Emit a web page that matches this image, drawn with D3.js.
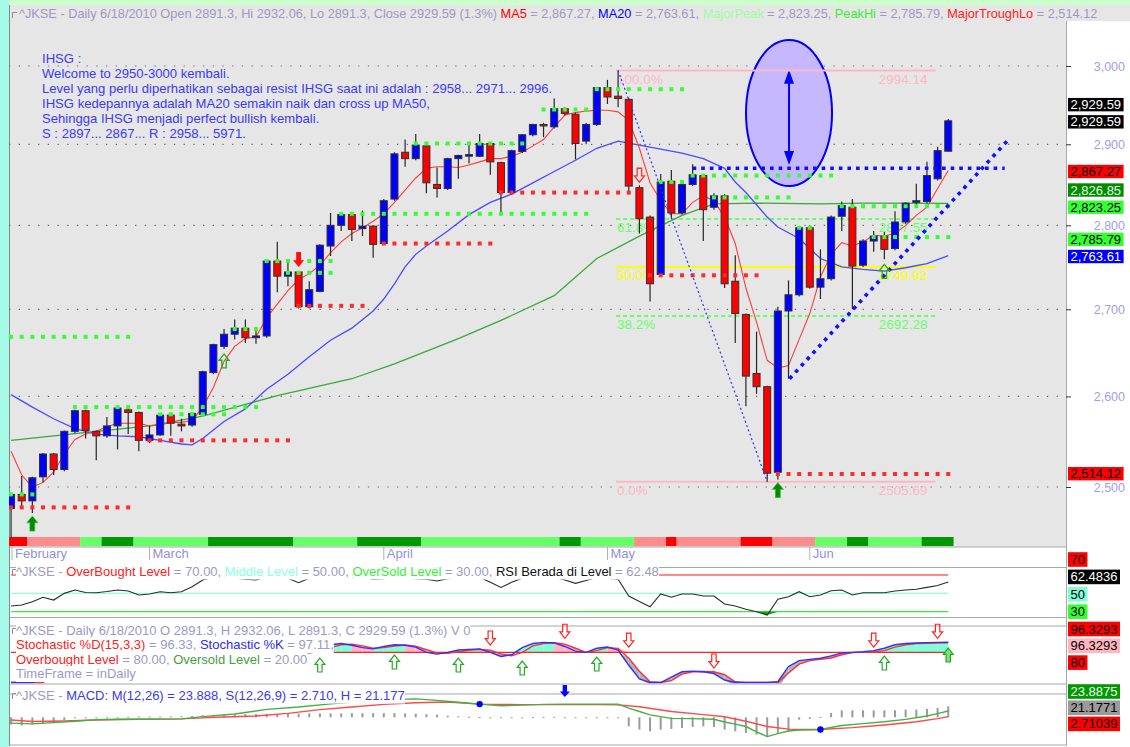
<!DOCTYPE html>
<html>
<head>
<meta charset="utf-8">
<title>JKSE daily</title>
<script src="https://cdn.jsdelivr.net/npm/d3@7"></script>
<style>
  body { margin: 0; background: #ffffff; }
  svg { display: block; font-family: "Liberation Sans", Arial, sans-serif; }
  text { white-space: pre; }
</style>
</head>
<body>
<svg id="chart" width="1130" height="747"></svg>
<script>
// ---------- data ----------
const opens  = [2477,2492,2485,2511,2536,2519,2561,2584,2561,2556, 2567,2585,2582,2551,2557,2579,2569,2568,2580,2627,
                2657,2671,2678,2667,2669,2757,2739,2744,2703,2721, 2775,2800,2813,2796,2799,2778,2832,2890,2882,2898,
                2850,2845,2882,2886,2885,2901,2877,2840,2891,2912, 2925,2922,2945,2938,2904,2925,2972,2961,2957,2846,
                2810,2741,2854,2815,2850,2861,2822,2836,2733,2694, 2626,2611,2516,2698,2717,2797,2726,2736,2811,2822,
                2752,2781,2787,2772,2804,2828,2829,2857,2891.3];
const highs  = [2493,2512,2511,2537,2537,2562,2585,2585,2562,2577, 2588,2586,2583,2567,2580,2582,2575,2582,2629,2660,
                2677,2688,2688,2678,2758,2780,2756,2745,2733,2777, 2815,2815,2815,2818,2800,2832,2890,2906,2913,2900,
                2871,2883,2887,2902,2913,2902,2878,2893,2913,2926, 2927,2958,2947,2940,2927,2973,2982,2994.14,2959,2849,
                2812,2863,2868,2851,2875,2862,2839,2838,2764,2695, 2674,2612,2703,2734,2799,2800,2771,2812,2829,2832,
                2783,2793,2792,2817,2828,2851,2878,2897,2932.06];
const lows   = [2446,2477,2472,2505,2513,2517,2559,2553,2529,2554, 2541,2558,2539,2548,2556,2556,2561,2566,2578,2625,
                2654,2665,2661,2660,2667,2720,2727,2701,2701,2720, 2763,2793,2781,2787,2761,2777,2830,2872,2880,2839,
                2834,2843,2857,2876,2884,2862,2815,2838,2889,2910, 2909,2920,2936,2881,2900,2923,2951,2947,2838,2790,
                2709,2738,2808,2813,2848,2781,2819,2725,2661,2589, 2603,2505.69,2508,2620,2715,2724,2712,2734,2793,2700,
                2750,2768,2759,2770,2802,2825,2827,2855,2891.3];
const closes = [2492,2485,2510,2536,2519,2561,2584,2562,2556,2567, 2587,2582,2551,2557,2579,2570,2567,2581,2628,2659,
                2671,2678,2667,2669,2757,2739,2744,2703,2723,2776, 2800,2813,2795,2799,2777,2830,2888,2882,2899,2852,
                2845,2882,2886,2887,2901,2878,2840,2892,2912,2925, 2924,2945,2939,2901,2925,2972,2960,2958,2848,2808,
                2730,2853,2815,2850,2862,2819,2836,2730,2695,2623, 2611,2515,2698,2717,2797,2726,2736,2810,2824,2751,
                2781,2787,2771,2804,2827,2830,2861,2892,2929.59];

const months = [["February", 0], ["March", 13], ["April", 35], ["May", 56], ["Jun", 75]];
const priceTicks = [2500, 2600, 2700, 2800, 2900, 3000];

const ma5 = [2539,2513,2500,2505,2516,2536,2552,2558,2561,2566, 2570,2570,2570,2567,2568,2571,2571,2573,2588,2610,
             2640,2657,2666,2668,2690,2706,2722,2735,2742,2752, 2767,2780,2790,2797,2805,2814,2828,2843,2858,2870,
             2872,2872,2871,2874,2878,2882,2882,2885,2890,2898, 2906,2922,2937,2940,2942,2943,2943,2941,2930,2895,
             2852,2830,2814,2814,2828,2836,2830,2810,2778,2725, 2685,2641,2632,2635,2665,2695,2738,2765,2779,2775,
             2780,2788,2787,2790,2800,2812,2822,2845,2867.27];
const ma20 = [[0,2602],[2,2588],[4,2575],[6,2564],[8,2558],[10,2556],[12,2555],[14,2551],[16,2547],[17,2546],
              [18,2553],[20,2572],[22,2586],[24,2608],[26,2625],[28,2645],[30,2664],[32,2678],[34,2698],[35,2712],
              [36,2730],[37,2750],[38,2765],[39,2775],[41,2793],[43,2813],[45,2828],[47,2838],[49,2852],[51,2866],
              [53,2880],[55,2895],[57,2904],[59,2899],[61,2894],[63,2889],[65,2882],[67,2870],[68,2853],[69,2840],
              [70,2825],[71,2810],[72,2798],[74,2784],[75,2772],[76,2760],[78,2750],[80,2747],[82,2745],[84,2749],
              [86,2754],[88,2763.61]];
const ma50 = [[0,2551],[4,2556],[8,2561],[13,2567],[18,2578],[22,2591],[25,2601],[32,2620],[36,2637],[42,2666],
              [46,2687],[51,2716],[55,2760],[59,2787],[63,2812],[66,2826],[70,2827],[76,2826],[80,2827],[88,2826.85]];

// support / resistance dots: [first bar, last bar, price, colour]
const srLevels = [
  [0,11,2668,"G"], [0,11,2478,"R"], [0,2,2492,"G"], [6,23,2588,"G"], [14,20,2580,"G"], [13,26,2551,"R"],
  [21,23,2677,"G"], [24,30,2757,"G"], [26,30,2743,"G"], [27,33,2704,"R"], [31,54,2814,"G"], [35,45,2778,"R"],
  [38,48,2901,"G"], [46,58,2840,"R"], [50,54,2944,"G"], [55,63,2970,"G"], [61,63,2853,"G"], [64,77,2861,"G"],
  [66,73,2834,"G"], [74,75,2797,"G"], [60,70,2740,"R"], [78,88,2823.25,"G"], [81,88,2785.79,"G"], [72,88,2514.12,"R"]
];

// trend strip under the candles: [first bar, last bar, state]
const stripSegs = [[0,1,"dn"],[2,6,"wdn"],[7,8,"wup"],[9,11,"up"],[12,18,"wup"],[19,26,"up"],[27,32,"wup"],
  [33,38,"up"],[39,51,"wup"],[52,53,"up"],[54,58,"wup"],[59,61,"wdn"],[62,62,"dn"],[63,68,"wdn"],[69,71,"dn"],
  [72,75,"wdn"],[76,78,"wup"],[79,80,"up"],[81,85,"wup"],[86,88,"up"]];

const fibValues = [2994.14, 2807.55, 2749.92, 2692.28, 2505.69];
const fibLabels = ["100.0%", "61.8%", "50.0%", "38.2%", "0.0%"];
const fibBars = [57, 87];

const buySolid = [2, 72], buyHollow = [20, 82], sellSolid = [27], sellHollow = [59];

const noteLines = ["IHSG :", "Welcome to 2950-3000 kembali.",
  "Level yang perlu diperhatikan sebagai resist IHSG saat ini adalah : 2958... 2971... 2996.",
  "IHSG kedepannya adalah MA20 semakin naik dan cross up MA50,",
  "Sehingga IHSG menjadi perfect bullish kembali.", "S : 2897... 2867... R : 2958... 5971."];

const rsi = [[0,36.2],[1,37.3],[2,40.9],[3,45.7],[4,42.7],[5,50],[6,53.6],[7,51],[8,50.7],[9,52],[10,53.6],[11,52.6],
  [12,48.2],[13,49.3],[14,51.8],[15,50.7],[16,51.8],[17,57.2],[18,64.5],[19,67.5],[20,67.5],[21,66.4],[22,65.3],
  [23,64.5],[24,68],[25,66.5],[26,66.4],[27,61.6],[28,66.4],[29,67.5],[30,68],[31,67.5],[32,66.5],[33,67.5],
  [34,65.3],[35,66],[36,68],[37,66.5],[38,66],[39,65.3],[40,63.5],[41,66],[42,66.4],[43,66.6],[44,67.5],[45,62],
  [46,56.5],[47,62],[48,66.4],[49,67],[50,67.5],[51,67.5],[52,64.5],[53,60.9],[54,64],[55,67.5],[56,66.5],
  [57,65.3],[58,47.1],[59,41],[60,35.4],[61,49.3],[62,45.7],[63,49.3],[64,49.3],[65,47.1],[66,47.1],[67,38.4],
  [68,36.2],[69,32.6],[70,30],[71,26.4],[72,43.5],[73,46.3],[74,51.8],[75,46.3],[76,48.2],[77,52.9],[78,53.6],
  [79,48.2],[80,50.7],[81,50.7],[82,50.7],[83,52.5],[84,53.6],[85,54.4],[86,56.5],[87,58.5],[88,62.48]];
const rsiLevels = [70, 50, 30];

const stochD = [22,18,18,28,40,55,70,78,80,82, 86,88,84,80,82,84,83,85,90,94, 96,97,96,94,95,93,88,82,79,82,
  88,93,94,91,87,88,90.7,92.4,90.7,84.5, 79,78.5,81,83.5,85,83.5,77.5,74,80,91, 95,96.4,94,87,80,83,88,86.8,70,48,
  30,27,32,43,47,47.5,47,42,30,20, 15,12,18,45,60,66,68,70.5,76,79.5, 80,81,83,89,93,95,95.5,96,96.33];
const stochK = [18,15,20,35,52,68,80,80,82,86, 89,86,80,82,84,84,84,88,94,97, 97,96,95,94,96,90,84,79,81,87,
  93,95,92,88,86,90,93,92,89,80, 77,80,84,85,86,80,73,76,88,95, 97,96,90,82,80,87,89,84,58,35,
  25,28,38,47,48,47,44,33,22,14, 10,12,30,56,66,68,70,74,79,80, 81,83,87,93,95,96,96.5,97,97.11];
const stochSell = [[45,92.5],[52,104],[58,89],[66,53.4],[81,89],[87,104]];
const stochBuy = [[29,70.4],[36,75.5],[42,70.4],[48,65.3],[55,72.1],[82,73.8]];
const stochBuyFilled = [[88,87.4]];

const macdLine = [[0,-22],[2,-25],[4,-20],[6,-15],[8,-9],[10,-7.5],[13,-7.5],[16,-6],[18,2.5],[21,12.6],[24,30],
  [27,39],[30,51],[33,60],[36,68],[38,70],[40,64],[42,57],[44,50],[46,44],[48,46],[50,49],[52,50],[55,50],[57,50],
  [58,35],[59,22],[60,9],[62,-4],[64,-5],[66,-7.5],[67,-18],[68,-26],[69,-35],[70,-55],[71,-73],[72,-62],[73,-52],
  [74,-48],[76,-46],[78,-31],[80,-24],[82,-17],[84,-8],[86,5],[87,14],[88,23.89]];
const macdSignal = [[0,-10],[2,-16],[5,-14],[8,-10],[12,-7.5],[16,-6],[18,-2],[20,1],[23,5],[26,15],[29,29],[32,39],
  [35,49],[38,55],[41,58],[44,50],[46,49],[48,48],[50,48],[52,48],[55,48],[57,47],[59,40],[62,22],[65,10],[67,2],
  [69,-15],[71,-35],[73,-45],[74,-46],[76,-46],[79,-39],[82,-29],[85,-17],[87,-5],[88,2.71]];
const macdHist = [-14,-16,-14,-12,-9,-5,-2,-1.5,-1,-1, -0.5,1,1.5,1.5,1.5,2,2,2.5,4,4.5, 5,5.5,6,6,6.5,6.5,7,7,7.5,7.5,
  7.5,7.5,8,8,8,8,8,7.5,7,6, 5,3,2,1,0.5,-0.5,-1,-1,-0.5,0.5, 1,1,-1,-1.5,-1.5,-1,-1,-1.5,-17.3,-23.8,
  -27,-23.8,-22.5,-20.5,-18.6,-17.3,-18.6,-23.8,-27,-30.2, -33.4,-37.9,-30.2,-27,-4.5,-3.2,0.5,8.3,13.5,13.5,
  13.5,13.5,13.5,13.5,14.8,14.8,16,18,21.18];
const macdCross = [[44,50],[76,-46]];
const macdSell = [[52,77]];

// ---------- layout ----------
const svg = d3.select("#chart");
const L = 9, R = 1066;
const x = d3.scaleLinear().domain([0, 88]).range([11.05, 948.25]);
const y = d3.scaleLog().domain([2500, 3000]).range([487, 66]);
const rsiY = d3.scaleLinear().domain([30, 70]).range([611.7, 575]);
const stY = d3.scaleLinear().domain([0, 100]).range([699.4, 640.6]);
const mY = d3.scaleLinear().domain([0, 23.89]).range([717.3, 711]);
const hY = d3.scaleLinear().domain([0, 21.177]).range([717.3, 706.3]);

const TITLE = 13;   // sub-pane title font size
const C = {
  grey: "#e6e6e6", lav: "#9a9ac4", axisTxt: "#a0a0e4", candleUp: "#0000ff", candleDn: "#ff0000",
  green: "#33ff33", red: "#ff2a2a", pink: "#ffb6c8", fibGreen: "#66ff66", yellow: "#ffff00"
};
const stripColor = { dn: "#ff0000", wdn: "#ff8c8c", wup: "#66ff66", up: "#009900" };

// backgrounds
svg.append("rect").attr("width", 1130).attr("height", 747).attr("fill", "#ffffff");
svg.append("rect").attr("x", 0).attr("y", 0).attr("width", 1130).attr("height", 5).attr("fill", "#ccffcc");
svg.append("rect").attr("x", 0).attr("y", 0).attr("width", L).attr("height", 747).attr("fill", "#a6fbe8");
svg.append("rect").attr("x", L).attr("y", 5).attr("width", 1130 - L).attr("height", 16).attr("fill", C.grey);
svg.append("rect").attr("x", L).attr("y", 5).attr("width", R - L).attr("height", 542).attr("fill", C.grey);

svg.append("defs").call(d => {
  d.append("clipPath").attr("id", "cMain").append("rect").attr("x", L).attr("y", 5).attr("width", R - L).attr("height", 541);
  d.append("clipPath").attr("id", "cRsi").append("rect").attr("x", L).attr("y", 562).attr("width", R - L).attr("height", 55);
  d.append("clipPath").attr("id", "cSt").append("rect").attr("x", L).attr("y", 620).attr("width", R - L).attr("height", 63.5);
  d.append("clipPath").attr("id", "cMacd").append("rect").attr("x", L).attr("y", 686).attr("width", R - L).attr("height", 58);
});

// pane borders
const borders = svg.append("g").attr("stroke", "#a8a8a8").attr("stroke-width", 1).attr("fill", "none");
[[L, 547, R, 547], [L, 617.5, R, 617.5], [L, 626, R, 626], [L, 567.5, R, 567.5], [L, 684, R, 684],
 [L, 694, R, 694], [L, 745, R, 745]].forEach(l => borders.append("line")
  .attr("x1", l[0]).attr("y1", l[1]).attr("x2", l[2]).attr("y2", l[3]));
borders.append("line").attr("x1", R + 0.5).attr("y1", 21).attr("x2", R + 0.5).attr("y2", 746);
borders.append("line").attr("x1", L + 0.5).attr("y1", 5).attr("x2", L + 0.5).attr("y2", 746).attr("stroke", "#888");

// ---------- price pane ----------
const pg = svg.append("g").attr("clip-path", "url(#cMain)");

pg.append("g").selectAll("line").data(priceTicks).join("line")
  .attr("x1", L).attr("x2", R).attr("y1", d => y(d)).attr("y2", d => y(d))
  .attr("stroke", "#6a6a6a").attr("stroke-width", 1.2).attr("stroke-dasharray", "1.3,8.4");

pg.append("g").selectAll("rect").data(stripSegs).join("rect")
  .attr("x", d => x(d[0] - 0.5)).attr("width", d => x(d[1] + 0.5) - x(d[0] - 0.5))
  .attr("y", 537).attr("height", 9).attr("fill", d => stripColor[d[2]]);

// ellipse with double arrow
const ex = 73.05;
pg.append("ellipse").attr("cx", x(ex)).attr("cy", (y(3034) + y(2848)) / 2)
  .attr("rx", x(ex + 4.04) - x(ex)).attr("ry", (y(2848) - y(3034)) / 2)
  .attr("fill", "#c6b8ff").attr("stroke", "#0000ff").attr("stroke-width", 2);
pg.append("line").attr("x1", x(ex)).attr("x2", x(ex)).attr("y1", y(2995) + 8).attr("y2", y(2874) - 8)
  .attr("stroke", "#0000ff").attr("stroke-width", 2);
[[y(2995), 1], [y(2874), -1]].forEach(([ty, d]) => pg.append("path")
  .attr("d", `M${x(ex)},${ty}L${x(ex) + 5},${ty + d * 14}L${x(ex) - 5},${ty + d * 14}Z`).attr("fill", "#0000ff"));

// fibonacci levels
const fibCol = [C.pink, C.fibGreen, C.yellow, C.fibGreen, C.pink];
fibValues.forEach((v, k) => {
  const dashed = fibCol[k] === C.fibGreen;
  pg.append("line").attr("x1", x(fibBars[0]) - 2).attr("x2", x(fibBars[1]) - 2).attr("y1", y(v)).attr("y2", y(v))
    .attr("stroke", fibCol[k]).attr("stroke-width", 2).attr("stroke-dasharray", dashed ? "4,3" : null);
  pg.append("text").attr("x", x(fibBars[0]) - 1).attr("y", y(v) + 13).attr("font-size", 13.5)
    .attr("fill", fibCol[k]).text(fibLabels[k]);
  pg.append("text").attr("x", x(fibBars[1]) - 10).attr("y", y(v) + 13).attr("font-size", 13.5)
    .attr("text-anchor", "end").attr("fill", fibCol[k]).text(v.toFixed(2));
});

// moving averages
const lineP = d3.line().x(d => x(d[0])).y(d => y(d[1]));
pg.append("path").attr("d", lineP(ma50)).attr("fill", "none").attr("stroke", "#3aa83a").attr("stroke-width", 1.3);
pg.append("path").attr("d", lineP(ma20)).attr("fill", "none").attr("stroke", "#4a4aff").attr("stroke-width", 1.3);
pg.append("path").attr("d", lineP(ma5.map((v, i) => [i, v]))).attr("fill", "none").attr("stroke", "#ff3b3b").attr("stroke-width", 1.1);

// candles
const bars = d3.range(opens.length);
const cg = pg.append("g");
cg.selectAll("line").data(bars).join("line")
  .attr("x1", i => x(i)).attr("x2", i => x(i)).attr("y1", i => y(highs[i])).attr("y2", i => y(lows[i]))
  .attr("stroke", "#262626").attr("stroke-width", 1.2);
cg.selectAll("rect").data(bars).join("rect")
  .attr("x", i => x(i) - 3.5).attr("width", 7)
  .attr("y", i => y(Math.max(opens[i], closes[i])))
  .attr("height", i => Math.max(1.5, Math.abs(y(opens[i]) - y(closes[i]))))
  .attr("fill", i => closes[i] >= opens[i] ? C.candleUp : C.candleDn)
  .attr("stroke", "#303030").attr("stroke-width", 1);

// support / resistance dots
srLevels.forEach(([a, b, p, c]) => {
  pg.append("g").selectAll("rect").data(d3.range(a, b + 1)).join("rect")
    .attr("x", i => x(i) - 2).attr("y", y(p) - 2).attr("width", 4).attr("height", 4)
    .attr("fill", c === "G" ? C.green : C.red);
});

// peak-to-trough leg and blue trend lines
pg.append("line").attr("x1", x(57)).attr("y1", y(highs[57])).attr("x2", x(71)).attr("y2", y(lows[71]))
  .attr("stroke", "#3030ff").attr("stroke-width", 1.2).attr("stroke-dasharray", "2,2.6");
pg.append("line").attr("x1", x(64)).attr("x2", x(93.3)).attr("y1", y(2870)).attr("y2", y(2870))
  .attr("stroke", "#1010ff").attr("stroke-width", 3.6).attr("stroke-dasharray", "3.6,5");
pg.append("line").attr("x1", x(73.1)).attr("y1", y(2620)).attr("x2", x(93.8)).attr("y2", y(2908))
  .attr("stroke", "#1010ff").attr("stroke-width", 3.6).attr("stroke-dasharray", "3.6,5");

// signal arrows
function arrowPath(cx, tip, dir, w, h) {
  const hh = h * 0.45, sw = w * 0.22;
  const pts = [[0, 0], [w / 2, hh], [sw, hh], [sw, h], [-sw, h], [-sw, hh], [-w / 2, hh]];
  return "M" + pts.map(p => (cx + p[0]) + "," + (tip + dir * p[1])).join("L") + "Z";
}
buySolid.forEach(i => pg.append("path").attr("d", arrowPath(x(i), y(lows[i]) + 3, 1, 11, 15))
  .attr("fill", "#008a00").attr("stroke", "#33bb33").attr("stroke-width", 0.8));
sellSolid.forEach(i => pg.append("path").attr("d", arrowPath(x(i), y(highs[i]) - 4, -1, 11, 15))
  .attr("fill", "#ff1010"));
buyHollow.forEach(i => pg.append("path").attr("d", arrowPath(x(i), y(lows[i]) + 5, 1, 10, 14))
  .attr("fill", "none").attr("stroke", "#22aa22").attr("stroke-width", 1.3));
sellHollow.forEach(i => pg.append("path").attr("d", arrowPath(x(i), y(highs[i]) - 3, -1, 10, 14))
  .attr("fill", "none").attr("stroke", "#ff3030").attr("stroke-width", 1.3));

// note text
const ng = svg.append("g").attr("font-size", 13.1).attr("fill", "#3a3af5");
noteLines.forEach((t, k) => ng.append("text").attr("x", 42).attr("y", 63 + k * 15).text(t));

// text run helper (optionally with opaque backing like the original titles)
function runs(g, x0, base, parts, size, bg) {
  let cx = x0;
  parts.forEach(([t, col]) => {
    const tx = g.append("text").attr("x", cx).attr("y", base).attr("font-size", size).attr("fill", col).text(t);
    const w = tx.node().getComputedTextLength();
    if (bg) g.insert("rect", () => tx.node()).attr("x", cx).attr("y", base - 12).attr("width", w).attr("height", 16).attr("fill", bg);
    cx += w;
  });
  return cx;
}

// little corner marks at the start of every title
const corners = svg.append("g").attr("stroke", "#8c8c8c").attr("fill", "none");
[13, 570, 629, 694].forEach(ty => corners.append("path").attr("d", `M12.5,${ty + 5}V${ty - 0.5}H17`));

const lav = C.lav;
runs(svg.append("g"), 19, 18, [
  ["^JKSE - Daily 6/18/2010 Open 2891.3, Hi 2932.06, Lo 2891.3, Close 2929.59 (1.3%) ", lav],
  ["MA5", "#ff0000"], [" = 2,867.27, ", lav], ["MA20", "#0000ff"], [" = 2,763.61, ", lav],
  ["MajorPeak", "#9cff9c"], [" = 2,823.25, ", lav], ["PeakHi", "#33ee33"], [" = 2,785.79, ", lav],
  ["MajorTroughLo", "#ff2020"], [" = 2,514.12", lav]], 12.75, null);

// price axis
const ax = svg.append("g").attr("transform", `translate(${R},0)`)
  .call(d3.axisRight(y).tickValues(priceTicks).tickFormat(d3.format(",")).tickSize(5).tickPadding(25));
ax.select(".domain").remove();
ax.selectAll("line").attr("stroke", "#333");
ax.selectAll("text").attr("font-size", 12.5).attr("fill", C.axisTxt).attr("font-family", "Liberation Sans, Arial")
  .attr("text-anchor", "end").attr("x", 59).attr("dy", null).attr("y", 4.3);
// vertical extent of every axis label, so value boxes can step aside
const axisBands = ax.selectAll("text").nodes().map(n => {
  const b = n.getBBox(), m = n.getCTM();
  return [b.y + m.f, b.y + b.height + m.f];
});

// value boxes
function box(yc, label, bg, fg, hgt) {
  const g = svg.append("g");
  const t = g.append("text").attr("x", 1070.5).attr("y", yc + 4.5).attr("font-size", 13).attr("fill", fg).text(label);
  const w = t.node().getComputedTextLength();
  g.insert("rect", () => t.node()).attr("x", 1068).attr("y", yc - hgt / 2).attr("width", w + 5).attr("height", hgt).attr("fill", bg);
}
const mainBoxes = [[2514.12, "2,514.12", "#ff0000", "#000"], [2763.61, "2,763.61", "#0000ff", "#fff"],
  [2785.79, "2,785.79", "#33ff33", "#000"], [2823.25, "2,823.25", "#33ff33", "#000"],
  [2826.85, "2,826.85", "#008c00", "#e6ffe6"], [2867.27, "2,867.27", "#ff0000", "#000"],
  [2929.59, "2,929.59", "#000000", "#fff"], [2929.59, "2,929.59", "#000000", "#fff"]];
const BH = 13.4;
let prevY = Infinity;
mainBoxes.forEach(b => {
  let yc = y(b[0]) + 1;
  axisBands.forEach(([t0, t1]) => {
    if (yc + BH / 2 > t0 && yc - BH / 2 < t1) yc = yc > (t0 + t1) / 2 ? t1 + BH / 2 + 0.4 : t0 - BH / 2 - 0.4;
  });
  if (yc > prevY - 17.2) yc = prevY - 17.2;
  prevY = yc;
  box(yc, b[1], b[2], b[3], BH);
});
[["70", "#ff0000", "#000"], ["62.4836", "#000", "#fff"], ["50", "#80ffd4", "#000"], ["30", "#33ff33", "#000"]]
  .forEach((b, k) => box(559.5 + k * 17.4, b[0], b[1], b[2], 14.6));
[["96.3293", "#ff0000", "#000"], ["96.3293", "#ffb6c1", "#000"], ["80", "#ff0000", "#000"]]
  .forEach((b, k) => box(629 + k * 16.8, b[0], b[1], b[2], 14.6));
[["23.8875", "#009900", "#f0fff0"], ["21.1771", "#9a9a9a", "#000"], ["2.71039", "#ff0000", "#000"]]
  .forEach((b, k) => box(691.5 + k * 16.2, b[0], b[1], b[2], 14.6));

// date axis
const dg = svg.append("g");
months.forEach(([m, i]) => {
  const mx = i === 0 ? L + 3 : x(i);
  dg.append("line").attr("x1", mx).attr("x2", mx).attr("y1", 547).attr("y2", 560).attr("stroke", "#b0b0b0");
  dg.append("text").attr("x", mx + 3).attr("y", 558).attr("font-size", TITLE).attr("fill", "#9090dc").text(m);
});

// ---------- RSI pane ----------
const rg = svg.append("g").attr("clip-path", "url(#cRsi)");
const rsiCol = ["#ff6060", "#90ffe0", "#33ee33"];
rsiLevels.forEach((v, k) => rg.append("line").attr("x1", x(0)).attr("x2", x(88)).attr("y1", rsiY(v)).attr("y2", rsiY(v))
  .attr("stroke", rsiCol[k]).attr("stroke-width", 1.3));
const rsiLine = d3.line().x(d => x(d[0])).y(d => rsiY(d[1]));
for (let k = 0; k < rsi.length - 1; k++) {
  const a = rsi[k], b = rsi[k + 1];
  if (a[1] < 30 || b[1] < 30) {
    rg.append("path").attr("fill", "#00b000").attr("d",
      `M${x(a[0])},${rsiY(30)}L${x(a[0])},${rsiY(Math.min(a[1], 30))}L${x(b[0])},${rsiY(Math.min(b[1], 30))}L${x(b[0])},${rsiY(30)}Z`);
  }
}
rg.append("path").attr("d", rsiLine(rsi)).attr("fill", "none").attr("stroke", "#2a2a2a").attr("stroke-width", 1.1);
runs(svg.append("g"), 16, 575.5, [["^JKSE - ", lav], ["OverBought Level", "#ff2020"], [" = 70.00, ", lav],
  ["Middle Level", "#8cffe0"], [" = 50.00, ", lav], ["OverSold Level", "#33ee33"], [" = 30.00, ", lav],
  ["RSI Berada di Level", "#111"], [" = 62.48", lav]], TITLE, "#fff");

// ---------- Stochastic pane ----------
const sg = svg.append("g").attr("clip-path", "url(#cSt)");
for (let i = 0; i < 88; i++) {
  const k0 = stochK[i], k1 = stochK[i + 1], d0 = stochD[i], d1 = stochD[i + 1];
  const up = (k0 + k1) >= (d0 + d1);
  sg.append("path").attr("fill", up ? "#80ffd4" : "#ffb4c4").attr("d",
    `M${x(i)},${stY(Math.max(k0, d0, 80))}L${x(i + 1)},${stY(Math.max(k1, d1, 80))}L${x(i + 1)},${stY(80)}L${x(i)},${stY(80)}Z`);
  sg.append("path").attr("fill", "#b4b4b4").attr("d",
    `M${x(i)},${stY(Math.min(k0, 80))}L${x(i + 1)},${stY(Math.min(k1, 80))}L${x(i + 1)},${stY(Math.min(d1, 80))}L${x(i)},${stY(Math.min(d0, 80))}Z`);
}
sg.append("line").attr("x1", x(0)).attr("x2", x(88)).attr("y1", stY(80)).attr("y2", stY(80)).attr("stroke", "#ff2020").attr("stroke-width", 1.3);
const stLine = d3.line().x((d, i) => x(i)).y(d => Math.min(stY(d), 682.5));
sg.append("path").attr("d", stLine(stochD)).attr("fill", "none").attr("stroke", "#ff3030").attr("stroke-width", 1.4);
sg.append("path").attr("d", stLine(stochK)).attr("fill", "none").attr("stroke", "#3030ff").attr("stroke-width", 1.4);
stochSell.forEach(([i, v]) => sg.append("path").attr("d", arrowPath(x(i), stY(v), -1, 10, 14))
  .attr("fill", "none").attr("stroke", "#ff2020").attr("stroke-width", 1.2));
stochBuy.forEach(([i, v]) => sg.append("path").attr("d", arrowPath(x(i), stY(v), 1, 10, 14))
  .attr("fill", "none").attr("stroke", "#22aa22").attr("stroke-width", 1.2));
stochBuyFilled.forEach(([i, v]) => sg.append("path").attr("d", arrowPath(x(i), stY(v), 1, 10, 14))
  .attr("fill", "#7fe07f").attr("stroke", "#22aa22").attr("stroke-width", 1.2));
const stt = svg.append("g");
runs(stt, 16, 634.5, [["^JKSE - Daily 6/18/2010 O 2891.3, H 2932.06, L 2891.3, C 2929.59 (1.3%) V 0", lav]], TITLE, "#fff");
runs(stt, 16, 649, [["Stochastic %D(15,3,3)", "#ff2020"], [" = 96.33, ", lav], ["Stochastic %K", "#2a2aff"], [" = 97.11,", lav]], TITLE, "#fff");
runs(stt, 16, 663.5, [["Overbought Level", "#ff2020"], [" = 80.00, ", lav], ["Oversold Level", "#44a040"], [" = 20.00", lav]], TITLE, "#fff");
runs(stt, 16, 678, [["TimeFrame = inDaily", lav]], TITLE, "#fff");

// ---------- MACD pane ----------
const mg = svg.append("g").attr("clip-path", "url(#cMacd)");
mg.selectAll("rect").data(macdHist).join("rect")
  .attr("x", (d, i) => x(i) - 1).attr("width", 2)
  .attr("y", d => Math.min(hY(d), hY(0))).attr("height", d => Math.max(1, Math.abs(hY(d) - hY(0))))
  .attr("fill", "#9a9a9a");
const mLine = d3.line().x(d => x(d[0])).y(d => mY(d[1]));
mg.append("path").attr("d", mLine(macdSignal)).attr("fill", "none").attr("stroke", "#ff4848").attr("stroke-width", 1.4);
mg.append("path").attr("d", mLine(macdLine)).attr("fill", "none").attr("stroke", "#44b044").attr("stroke-width", 1.4);
mg.selectAll("circle").data(macdCross).join("circle")
  .attr("cx", d => x(d[0])).attr("cy", d => mY(d[1])).attr("r", 3.2).attr("fill", "#0000ff");
runs(svg.append("g"), 16, 699.5, [["^JKSE - ", lav], ["MACD: M(12,26) = 23.888, S(12,26,9) = 2.710, H = 21.177", "#3a3aee"]], TITLE, "#fff");
macdSell.forEach(([i, v]) => svg.append("path").attr("d", arrowPath(x(i), mY(v), -1, 10, 12)).attr("fill", "#0000ff"));
</script>
</body>
</html>
